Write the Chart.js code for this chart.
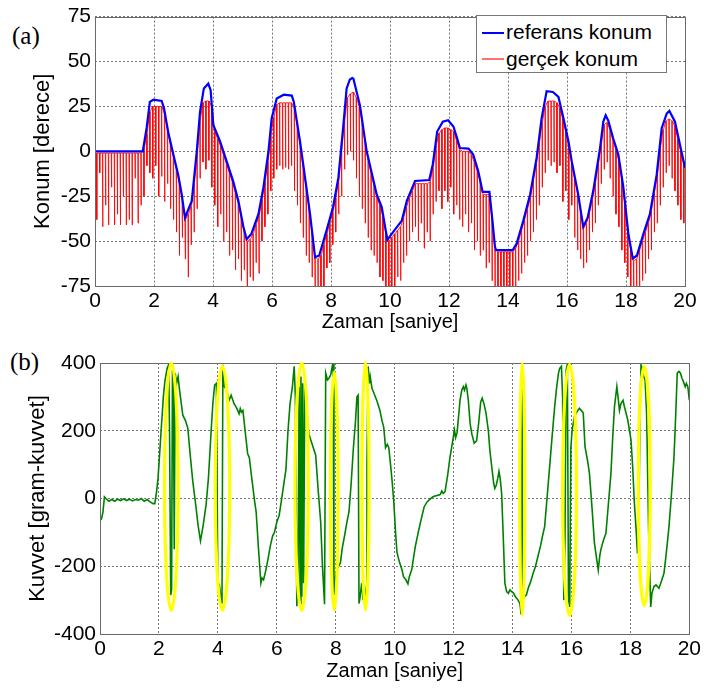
<!DOCTYPE html>
<html>
<head>
<meta charset="utf-8">
<script src="https://cdn.jsdelivr.net/npm/chart.js"></script>
<style>
    body { margin: 0; background: #fff; width: 704px; height: 688px; overflow: hidden; position: relative; font-family: 'Liberation Sans', Arial, sans-serif; }
    canvas { position: absolute; left: 0; }
    #konumGrafik { top: 0; }
    #kuvvetGrafik { top: 340px; }
    .etiket { position: absolute; font-family: 'Liberation Serif', 'Times New Roman', serif; font-size: 25px; }
    #lejant { position: absolute; left: 476px; top: 15px; width: 191px; height: 58px; box-sizing: border-box; border: 1px solid #777; background: #fff; }
    #lejant .cizgi { position: absolute; left: 5px; width: 22px; }
    #lejant .yazi { position: absolute; left: 29px; font-size: 21px; line-height: 26px; white-space: nowrap; }
</style>
</head>
<body>
<div class="etiket" style="left:12px; top:22px;">(a)</div>
<div class="etiket" style="left:10px; top:348px;">(b)</div>
<canvas id="konumGrafik" width="704" height="340"></canvas>
<canvas id="kuvvetGrafik" width="704" height="348"></canvas>
<div id="lejant">
    <div class="cizgi" style="top:16px; height:2px; background:#0000ff;"></div>
    <div class="yazi" style="top:3px;">referans konum</div>
    <div class="cizgi" style="top:42px; height:2px; background:#ff7070;"></div>
    <div class="yazi" style="top:30px;">gerçek konum</div>
</div>
<script>
// (a) referans konum - kirilma noktalari [saniye, derece]
const referansT = [0, 1.62, 1.75, 1.86, 1.98, 2.26, 2.34, 2.49, 2.66, 2.82, 2.94, 3.05, 3.28, 3.45, 3.56, 3.69, 3.84, 3.92, 4.01, 4.24,
    4.46, 4.68, 4.86, 5.03, 5.14, 5.3, 5.54, 5.71, 5.88, 5.99, 6.16, 6.4, 6.67, 6.74, 6.95, 7.12, 7.29, 7.46, 7.6, 7.85,
    8.07, 8.25, 8.42, 8.53, 8.64, 8.72, 8.76, 8.87, 8.98, 9.21, 9.55, 9.72, 9.91, 10.06, 10.4, 10.57, 10.85, 11.33, 11.45, 11.6,
    11.79, 11.97, 12.15, 12.26, 12.37, 12.66, 12.82, 12.99, 13.14, 13.37, 13.45, 13.56, 13.6, 14.16, 14.29, 14.52, 14.75, 14.97, 15.14, 15.31,
    15.52, 15.71, 15.88, 16.05, 16.16, 16.38, 16.55, 16.7, 16.89, 17.12, 17.23, 17.31, 17.4, 17.57, 17.74, 17.91, 18.08, 18.23, 18.37, 18.59,
    18.81, 19.04, 19.21, 19.38, 19.47, 19.66, 19.83, 20];
const referansV = [0, 0, 13, 27.5, 28.7, 28, 24, 10, -2, -13, -24, -37, -27.6, 0, 22, 35, 37.7, 34, 14.7, 5.5,
    -5.5, -16.5, -27.6, -42, -49, -46, -35, -20, 0, 18.4, 29.4, 31.5, 31, 27.5, 5.5, -14.7, -35, -59, -58, -44,
    -31, -14.7, 14.7, 35, 40, 40.8, 40.4, 33, 25.7, 0, -24, -31, -49.3, -46, -38.6, -27.6, -16.5, -16, -7.3, 11,
    16.5, 17.3, 13.8, 8, 1.8, 1.5, -1.8, -11, -22.6, -22.6, -35, -53.3, -55, -55, -51.5, -38.6, -24, -3.7, 18.4, 33.5,
    33, 30.3, 18.4, 5.5, -5.5, -24, -42, -37, -22, 1.8, 16.5, 20, 17, 7, -1.8, -20, -46, -59.7, -58, -46,
    -35, -13, 12.9, 21, 22.5, 16.5, 3.7, -9.2];

// (a) gercek konum - her 0.1 s'de bir inen sivri uclar (ust ve alt degerler)
const ornekBaslangic = 0.05;
const ornekAraligi = 0.1;
const gercekUst = [-1, -1, -1, -1, -1, -1, -1, -1, -1, -1, -1, -1, -1, -1, -1, -1, 1, 10, 22, 25,
    25, 25, 25, 21, 12, 4, -3, -10, -18, -27, -38, -35, -31, -18, -2, 17, 27, 28, 28, 25,
    11, 7, 3, -2, -7, -12, -17, -23, -29, -37, -45, -50, -49, -46, -41, -36, -27, -17, -6, 9,
    19, 26, 27, 27, 27, 27, 27, 24, 14, 3, -9, -20, -32, -45, -59, -60, -58, -52, -46, -40,
    -34, -26, -17, 0, 17, 30, 32, 33, 30, 25, 16, 5, -5, -12, -19, -26, -30, -36, -45, -50,
    -48, -46, -44, -42, -37, -31, -26, -22, -18, -18, -18, -18, -18, -17, -9, 3, 10, 12, 13, 13,
    12, 11, 6, 1, 0, 0, 0, -2, -6, -11, -17, -24, -24, -24, -37, -54, -56, -56, -56, -56,
    -56, -56, -54, -50, -44, -38, -32, -26, -16, -7, 5, 16, 25, 28, 28, 28, 27, 24, 18, 11,
    3, -6, -15, -23, -33, -43, -40, -34, -27, -18, -7, 4, 15, 16, 12, 6, 1, -5, -15, -28,
    -43, -54, -61, -60, -55, -50, -45, -40, -33, -23, -13, 2, 12, 17, 18, 17, 14, 7, 0, -7];
const gercekAlt = [-38, -12, -42, -30, -41, -20, -41, -35, -41, -25, -41, -38, -41, -15, -40, -30, -25, -8, -12, -15,
    -8, -25, -14, -28, -18, -32, -38, -45, -58, -48, -60, -70, -52, -45, -32, -15, -6, -10, -5, -20,
    -30, -42, -35, -50, -45, -58, -55, -66, -60, -72, -66, -78, -70, -72, -62, -68, -50, -42, -35, -22,
    -15, -10, -8, -10, -9, -10, -8, -22, -30, -40, -48, -58, -62, -70, -78, -80, -78, -80, -65, -62,
    -52, -45, -35, -25, -10, -2, 0, -5, -15, -25, -32, -40, -48, -55, -58, -62, -70, -72, -78, -80,
    -76, -78, -70, -72, -62, -58, -50, -45, -42, -50, -40, -54, -45, -50, -35, -28, -22, -32, -22, -28,
    -20, -35, -30, -38, -42, -35, -45, -40, -55, -50, -58, -55, -65, -62, -72, -78, -80, -75, -80, -78,
    -80, -77, -80, -72, -68, -62, -58, -50, -45, -38, -30, -20, -12, -5, -8, -6, -12, -8, -28, -22,
    -38, -30, -48, -55, -60, -65, -62, -55, -45, -40, -30, -18, -10, -6, -15, -25, -35, -42, -55, -62,
    -70, -78, -80, -78, -80, -72, -68, -60, -55, -45, -40, -30, -20, -12, -8, -15, -22, -30, -38, -40];

// (b) kuvvet [saniye, gram-kuvvet]
const kuvvetT = [0, 0.05, 0.1, 0.15, 0.2, 0.3, 0.4, 0.5, 0.6, 0.7, 0.8, 0.9, 1.0, 1.1, 1.2, 1.3, 1.4, 1.5, 1.6, 1.7,
    1.8, 1.86, 1.92, 1.97, 2.03, 2.08, 2.15, 2.2, 2.28, 2.33, 2.36, 2.4, 2.43, 2.46, 2.49, 2.52, 2.55, 2.6, 2.65, 2.7,
    2.81, 2.9, 2.98, 3.06, 3.15, 3.25, 3.33, 3.41, 3.5, 3.6, 3.68, 3.77, 3.83, 3.89, 3.95, 4.0, 4.05, 4.1, 4.14, 4.17,
    4.22, 4.3, 4.38, 4.45, 4.55, 4.62, 4.67, 4.72, 4.76, 4.8, 4.85, 4.9, 4.95, 5.01, 5.07, 5.15, 5.25, 5.3, 5.38, 5.46,
    5.5, 5.55, 5.62, 5.7, 5.78, 5.86, 5.92, 6.0, 6.08, 6.15, 6.25, 6.31, 6.38, 6.45, 6.53, 6.59, 6.63, 6.68, 6.72, 6.76,
    6.79, 6.82, 6.85, 6.88, 6.91, 6.95, 6.98, 7.05, 7.09, 7.2, 7.32, 7.4, 7.49, 7.55, 7.62, 7.66, 7.72, 7.77, 7.83, 7.88,
    7.91, 7.94, 7.98, 8.02, 8.1, 8.16, 8.22, 8.3, 8.38, 8.45, 8.52, 8.6, 8.67, 8.72, 8.76, 8.79, 8.83, 8.88, 8.93, 8.97,
    9.03, 9.06, 9.1, 9.14, 9.17, 9.23, 9.3, 9.4, 9.5, 9.57, 9.63, 9.69, 9.75, 9.8, 9.85, 9.91, 9.97, 10.03, 10.08, 10.17,
    10.25, 10.3, 10.38, 10.45, 10.5, 10.58, 10.64, 10.7, 10.8, 10.92, 11.0, 11.1, 11.2, 11.3, 11.4, 11.49, 11.55, 11.6, 11.65, 11.71,
    11.8, 11.88, 11.95, 12.03, 12.07, 12.12, 12.22, 12.28, 12.33, 12.37, 12.42, 12.45, 12.5, 12.56, 12.62, 12.7, 12.78, 12.85, 12.92, 12.97,
    13.03, 13.1, 13.18, 13.23, 13.3, 13.36, 13.4, 13.45, 13.5, 13.54, 13.58, 13.63, 13.68, 13.74, 13.8, 13.86, 13.91, 13.97, 14.02, 14.1,
    14.19, 14.25, 14.29, 14.32, 14.35, 14.4, 14.47, 14.55, 14.6, 14.7, 14.78, 14.86, 14.95, 15.02, 15.09, 15.17, 15.26, 15.35, 15.43, 15.5,
    15.56, 15.6, 15.66, 15.7, 15.74, 15.78, 15.82, 15.86, 15.9, 15.94, 15.98, 16.02, 16.1, 16.18, 16.27, 16.35, 16.4, 16.46, 16.55, 16.61,
    16.7, 16.78, 16.85, 16.91, 16.96, 17.0, 17.08, 17.17, 17.25, 17.34, 17.4, 17.46, 17.54, 17.58, 17.63, 17.68, 17.75, 17.8, 17.91, 18.02,
    18.08, 18.13, 18.2, 18.24, 18.28, 18.32, 18.36, 18.4, 18.45, 18.5, 18.55, 18.62, 18.69, 18.73, 18.8, 18.87, 18.97, 19.05, 19.14, 19.22,
    19.31, 19.4, 19.48, 19.54, 19.59, 19.65, 19.7, 19.75, 19.8, 19.86, 19.9, 19.95, 20.0];
const kuvvetV = [-65, -60, -40, 5, 0, -8, -3, -8, -2, -6, -1, -6, -2, -7, -3, -5, 0, -8, -3, -10,
    -15, -15, 20, 60, 140, 208, 300, 345, 385, 395, 200, -285, -270, 380, 320, -150, 370, 340, 360, 320,
    246, 230, 208, 130, 50, -20, -80, -125, -80, -19, 60, 197, 280, 335, 340, -260, -255, -290, -310, 395,
    330, 320, 290, 305, 280, 270, 261, 250, 265, 255, 260, 220, 180, 133, 120, 60, -10, -40, -150, -250,
    -235, -240, -215, -180, -140, -110, -100, -70, -50, -10, 50, 85, 200, 280, 330, 390, 300, -318, -200, 330,
    -310, 360, -290, 340, -250, 320, 340, 220, 190, 160, 128, 30, -70, -200, -312, 370, 350, 355, 365, 390,
    400, -285, -240, -216, -200, -190, -147, -110, -70, -39, 40, 150, 227, 300, 305, -310, -290, -250, -300, -255,
    -300, 100, 390, 340, 360, 325, 310, 288, 260, 230, 210, 150, 160, 150, 109, 55, -9, -100, -160, -190,
    -211, -231, -240, -252, -230, -210, -175, -142, -100, -54, -25, -10, -2, 5, 8, 10, 12, 22, 15, 20,
    70, 123, 160, 202, 180, 195, 291, 320, 330, 320, 335, 325, 290, 222, 190, 163, 170, 222, 285, 296,
    280, 252, 200, 143, 90, 45, 30, 40, 60, 80, 60, 16, -100, -250, -275, -280, -270, -275, -278, -290,
    -300, -310, -340, 390, -300, -290, -285, -260, -250, -221, -200, -172, -140, -110, -83, 0, 94, 190, 271, 330,
    370, 384, 390, 300, -300, -120, 380, 395, -300, -320, 150, 200, 242, 255, 266, 258, 252, 153, 110, 74,
    -30, -132, -175, -211, -170, -150, -125, -103, -20, 74, 180, 271, 330, 300, 260, 280, 290, 270, 232, 173,
    90, -5, -100, -162, -100, 200, 394, 385, 360, 350, 250, -100, -320, -280, -260, -255, -265, -245, -221, -160,
    -83, 20, 123, 250, 370, 375, 370, 355, 345, 330, 340, 330, 290];

// (b) sari elipsler: merkez zaman, merkez kuvvet, yari genislik (s), yari yukseklik
const elipsT = [2.42, 4.155, 6.845, 7.95, 9.01, 14.33, 15.935, 18.47];
const elipsV = [35, 30, 35, 22, 36, 28, 25, 37];
const elipsYariT = [0.23, 0.245, 0.225, 0.13, 0.12, 0.09, 0.235, 0.2];
const elipsYariV = [365, 360, 365, 352, 366, 373, 370, 353];

const xTikler = [0, 2, 4, 6, 8, 10, 12, 14, 16, 18, 20];

Chart.defaults.font.family = "'Liberation Sans', Arial, sans-serif";
Chart.defaults.color = '#000';

const cerceve = {
    id: 'cerceve',
    afterDatasetsDraw(chart) {
        const { ctx, chartArea } = chart;
        ctx.save();
        ctx.strokeStyle = '#6a6a6a';
        ctx.lineWidth = 1;
        ctx.strokeRect(Math.round(chartArea.left) + 0.5, Math.round(chartArea.top) + 0.5,
            Math.round(chartArea.right - chartArea.left), Math.round(chartArea.bottom - chartArea.top));
        ctx.restore();
    }
};

const elipsler = {
    id: 'elipsler',
    afterDatasetsDraw(chart) {
        const { ctx } = chart;
        const x = chart.scales.x, y = chart.scales.y;
        ctx.save();
        ctx.strokeStyle = '#ffff00';
        ctx.lineWidth = 3.2;
        elipsT.forEach((t, i) => {
            const cx = x.getPixelForValue(t);
            const cy = y.getPixelForValue(elipsV[i]);
            const rx = Math.abs(x.getPixelForValue(t + elipsYariT[i]) - cx);
            const ry = Math.abs(y.getPixelForValue(elipsV[i] + elipsYariV[i]) - cy);
            ctx.beginPath();
            ctx.ellipse(cx, cy, rx, ry, 0, 0, 2 * Math.PI);
            ctx.stroke();
        });
        ctx.restore();
    }
};

function eksenler(yMin, yMax, yAdim, yBaslik, yGenislik, xBaslikAlt) {
    const izgara = { color: '#777', lineWidth: 1, drawTicks: false, borderDash: [2, 2] };
    return {
        x: {
            type: 'linear',
            min: 0,
            max: 20,
            afterBuildTicks: (s) => { s.ticks = xTikler.map(v => ({ value: v })); },
            afterFit: (s) => { s.height = 54; },
            grid: izgara,
            border: { display: false, dash: [2, 2] },
            ticks: { font: { size: 21 }, padding: 3, autoSkip: false, maxRotation: 0 },
            title: { display: true, text: 'Zaman [saniye]', font: { size: 20 }, padding: { top: 0, bottom: xBaslikAlt } }
        },
        y: {
            min: yMin,
            max: yMax,
            afterFit: (s) => { s.width = yGenislik; },
            grid: izgara,
            border: { display: false, dash: [2, 2] },
            ticks: { stepSize: yAdim, font: { size: 21 }, padding: 4, autoSkip: false },
            title: { display: true, text: yBaslik, font: { size: 22 }, padding: { top: 4, bottom: 0 } }
        }
    };
}

function createKonumChart() {
    const referansNoktalar = referansT.map((t, i) => ({ x: t, y: referansV[i] }));
    const gercekNoktalar = [];
    gercekUst.forEach((ust, i) => {
        const t = ornekBaslangic + i * ornekAraligi;
        gercekNoktalar.push({ x: t, y: ust }, { x: t + 0.01, y: gercekAlt[i] }, { x: t + 0.02, y: ust });
    });

    new Chart(document.getElementById('konumGrafik').getContext('2d'), {
        type: 'line',
        data: {
            datasets: [{
                label: 'referans konum',
                data: referansNoktalar,
                borderColor: '#0000ff',
                borderWidth: 2.2,
                pointRadius: 0,
                tension: 0
            }, {
                label: 'gerçek konum',
                data: gercekNoktalar,
                borderColor: 'rgba(255, 0, 0, 0.85)',
                borderWidth: 1,
                pointRadius: 0,
                tension: 0
            }]
        },
        options: {
            responsive: false,
            animation: false,
            layout: { padding: { left: 26, right: 19, top: 14, bottom: 0 } },
            plugins: { legend: { display: false }, tooltip: { enabled: false } },
            scales: eksenler(-75, 75, 25, 'Konum [derece]', 69, 6)
        },
        plugins: [cerceve]
    });
}

function createKuvvetChart() {
    const kuvvetNoktalar = kuvvetT.map((t, i) => ({ x: t, y: kuvvetV[i] }));

    new Chart(document.getElementById('kuvvetGrafik').getContext('2d'), {
        type: 'line',
        data: {
            datasets: [{
                label: 'kuvvet',
                data: kuvvetNoktalar,
                borderColor: '#008000',
                borderWidth: 1.6,
                pointRadius: 0,
                tension: 0
            }]
        },
        options: {
            responsive: false,
            animation: false,
            layout: { padding: { left: 21, right: 12, top: 23, bottom: 0 } },
            plugins: { legend: { display: false }, tooltip: { enabled: false } },
            scales: eksenler(-400, 400, 200, 'Kuvvet [gram-kuvvet]', 79, 5)
        },
        plugins: [cerceve, elipsler]
    });
}

createKonumChart();
createKuvvetChart();
</script>
</body>
</html>
